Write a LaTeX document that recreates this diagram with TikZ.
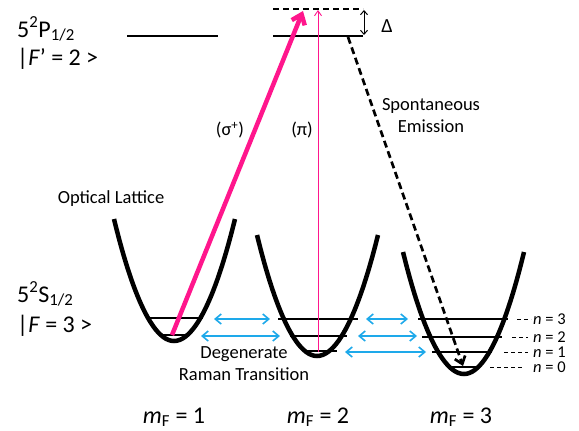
\documentclass[tikz,border=0pt]{standalone}
\usepackage{fontspec}
\setmainfont{Carlito}
\usetikzlibrary{positioning, arrows.meta}
\definecolor{laserpink}{HTML}{FF168C}
\definecolor{ramanblue}{HTML}{1EA9EA}

\begin{document}
\begin{tikzpicture}[
      x=1pt, y=-1pt,
      every node/.style={font=\fontsize{18.5}{22}\selectfont, inner sep=0pt},
      biglabel/.style={font=\fontsize{24}{28}\selectfont, anchor=base west},
      mlabel/.style={font=\fontsize{24}{28}\selectfont, anchor=base},
      nlabel/.style={font=\fontsize{16.5}{18}\selectfont, anchor=west},
      trap/.style={line width=4.5pt},
      level/.style={line width=1.2pt},
      upper/.style={line width=2.2pt},
      leader/.style={line width=1pt, dash pattern=on 4pt off 3pt},
      raman/.style={ramanblue, line width=1.6pt,
        {Straight Barb[length=6pt,width=10pt]}-{Straight Barb[length=6pt,width=10pt]}},
    ]
    \useasboundingbox (0,0) rectangle (579,431);

    % state labels
    \node[biglabel] (plabel) at (17,37) {5\textsuperscript{2}P\textsubscript{1/2}};
    \node[biglabel] (pket) at (17,65) {|\textit{F}’ = 2 >};
    \node[biglabel] (slabel) at (17,302) {5\textsuperscript{2}S\textsubscript{1/2}};
    \node[biglabel] (sket) at (17,332) {|\textit{F} = 3 >};

    % excited level and virtual level
    \draw[upper] (127,36) coordinate (pl) -- (218,36) coordinate (pr);
    \draw[upper] (273,36) coordinate (el) -- (363,36) coordinate (er);
    \draw[upper, dash pattern=on 6pt off 4pt] (273,9) coordinate (vl) -- (363,9) coordinate (vr);
    \draw[line width=1pt, {Straight Barb[length=4pt,width=7pt]}-{Straight Barb[length=4pt,width=7pt]}]
      (364,10) coordinate (dtop) -- (364,35) coordinate (dbot);
    \node[font=\fontsize{20}{24}\selectfont] (delta) at (387,26) {Δ};

    % vibrational levels (drawn under the traps)
    \draw[level] (146,318) -- (203,318);
    \draw[level] (160,335) -- (188,335);
    \draw[level] (278,319) -- (358,319);
    \draw[level] (290,336) -- (347,336);
    \draw[level] (303,351) -- (337,351);
    \draw[level] (418,319) coordinate (r3l) -- (508,319) coordinate (r3r);
    \draw[level] (422,337) coordinate (r2l) -- (502,337) coordinate (r2r);
    \draw[level] (432,352) coordinate (r1l) -- (492,352) coordinate (r1r);
    \draw[level] (450,367) coordinate (r0l) -- (478,367) coordinate (r0r);

    % lattice traps
    \draw[trap] (114,219) parabola bend (174,341) (235,219);
    \draw[trap] (257,235) parabola bend (317,356) (378,235);
    \draw[trap] (403,252) parabola bend (464,374) (524,252);
    \node (lattice) at (111,199) {Optical Lattice};

    % n labels
    \node[nlabel] (n3) at (533,319) {\textit{n} = 3};
    \node[nlabel] (n2) at (533,337) {\textit{n} = 2};
    \node[nlabel] (n1) at (533,352) {\textit{n} = 1};
    \node[nlabel] (n0) at (533,367) {\textit{n} = 0};
    \draw[leader] (r3r) ++(9,0) -- ([xshift=-2pt]n3.west);
    \draw[leader] (r2r) ++(10,0) -- ([xshift=-5pt]n2.west);
    \draw[leader] (r1r) ++(12,0) -- ([xshift=-5pt]n1.west);
    \draw[leader] (r0r) ++(12,0) -- ([xshift=-10pt]n0.west);

    % degenerate Raman couplings
    \draw[raman] (214,319) coordinate (a1) -- (270,319) coordinate (b1);
    \draw[raman] (201,336) coordinate (a2) -- (280,336) coordinate (b2);
    \draw[raman] (366,319) coordinate (c1) -- (408,319) coordinate (d1);
    \draw[raman] (358,336) coordinate (c2) -- (417,336) coordinate (d2);
    \draw[raman] (345,352) coordinate (c3) -- (426,352) coordinate (d3);
    \node[align=center] (raman) at (244,364) {Degenerate\\Raman Transition};

    % optical pumping beams
    \coordinate (sigstart) at (172,335);
    \coordinate (sigend) at (303,11);
    \coordinate (pistart) at (318,352);
    \coordinate (piend) at (318,10);
    \draw[laserpink, line width=4.5pt, -{Straight Barb[length=9pt,width=14pt]}] (sigstart) -- (sigend);
    \draw[laserpink, line width=0.9pt, -{Straight Barb[length=5pt,width=7pt]}] (pistart) -- (piend);
    \node (sigma) at (230,130) {(σ\textsuperscript{+})};
    \node (pi) at (302,130) {(π)};

    % spontaneous emission
    \coordinate (emstart) at (348,37);
    \coordinate (emend) at (463,366);
    \draw[line width=2.7pt, dash pattern=on 7pt off 4pt, -{Straight Barb[length=7pt,width=11pt]}] (emstart) -- (emend);
    \node[align=center] (spont) at (431,116) {Spontaneous\\Emission};

    % Zeeman sublabels
    \node[mlabel] (mf1) at (174,423) {\textit{m}\textsubscript{F} = 1};
    \node[mlabel] (mf2) at (318,423) {\textit{m}\textsubscript{F} = 2};
    \node[mlabel] (mf3) at (461,423) {\textit{m}\textsubscript{F} = 3};
  \end{tikzpicture}
\end{document}
